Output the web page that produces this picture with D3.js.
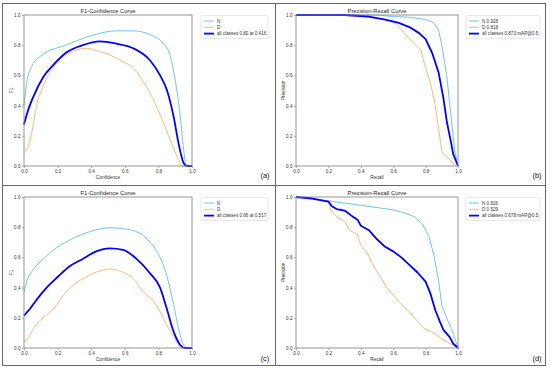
<!DOCTYPE html>
<html>
<head>
<meta charset="utf-8">
<script src="https://cdn.jsdelivr.net/npm/d3@7"></script>
<style>
  html, body { margin: 0; padding: 0; background: #fff; }
  svg { display: block; font-family: "Liberation Sans", Arial, sans-serif; }
</style>
</head>
<body>
<svg id="fig" width="550" height="370"></svg>
<script>
// ---- data ----
// (a) F1-Confidence, first model
const aN_x = [0, 0.016, 0.046, 0.115, 0.25, 0.39, 0.55, 0.65, 0.75, 0.83, 0.87, 0.9, 0.93, 0.95, 0.965, 1.0];
const aN_y = [0.40, 0.55, 0.66, 0.74, 0.80, 0.86, 0.895, 0.895, 0.87, 0.81, 0.73, 0.57, 0.33, 0.11, 0, 0];
const aD_x = [0, 0.026, 0.046, 0.075, 0.115, 0.155, 0.21, 0.27, 0.33, 0.37, 0.43, 0.51, 0.59, 0.65, 0.71, 0.77, 0.83, 0.87, 0.91, 0.94, 1.0];
const aD_y = [0.09, 0.13, 0.22, 0.40, 0.53, 0.62, 0.70, 0.75, 0.774, 0.78, 0.765, 0.736, 0.69, 0.65, 0.56, 0.44, 0.286, 0.176, 0.066, 0, 0];
const aAll_x = [0, 0.016, 0.056, 0.115, 0.175, 0.25, 0.35, 0.45, 0.55, 0.65, 0.75, 0.81, 0.85, 0.89, 0.92, 0.95, 0.97, 1.0];
const aAll_y = [0.275, 0.34, 0.46, 0.59, 0.67, 0.75, 0.80, 0.825, 0.81, 0.78, 0.70, 0.60, 0.505, 0.33, 0.15, 0.02, 0, 0];

// (b) Precision-Recall, first model
const bN_x = [0, 0.5, 0.6, 0.7, 0.8, 0.85, 0.88, 0.9, 0.93, 0.95, 0.97, 0.98, 1.0];
const bN_y = [1, 1, 0.99, 0.985, 0.97, 0.95, 0.9, 0.8, 0.6, 0.4, 0.2, 0.1, 0];
const bD_x = [0, 0.25, 0.4, 0.55, 0.62, 0.67, 0.72, 0.77, 0.8, 0.83, 0.86, 0.88, 0.9, 0.92, 0.95, 0.99];
const bD_y = [1, 1, 0.99, 0.97, 0.94, 0.88, 0.82, 0.77, 0.65, 0.55, 0.4, 0.25, 0.1, 0.07, 0.04, 0];
const bAll_x = [0, 0.3, 0.45, 0.55, 0.63, 0.7, 0.76, 0.8, 0.84, 0.88, 0.91, 0.93, 0.96, 0.97, 1.0];
const bAll_y = [1, 1, 0.99, 0.97, 0.95, 0.92, 0.88, 0.84, 0.75, 0.62, 0.45, 0.3, 0.14, 0.08, 0];

// (c) F1-Confidence, second model
const cN_x = [0, 0.016, 0.056, 0.115, 0.19, 0.29, 0.39, 0.51, 0.59, 0.69, 0.75, 0.81, 0.85, 0.89, 0.92, 0.95, 0.965, 1];
const cN_y = [0.37, 0.44, 0.52, 0.59, 0.66, 0.725, 0.77, 0.796, 0.79, 0.76, 0.70, 0.60, 0.48, 0.29, 0.13, 0.02, 0, 0];
const cD_x = [0, 0.026, 0.056, 0.115, 0.175, 0.25, 0.31, 0.37, 0.45, 0.51, 0.57, 0.65, 0.71, 0.77, 0.81, 0.85, 0.89, 0.92, 0.94, 1];
const cD_y = [0.044, 0.066, 0.13, 0.20, 0.26, 0.37, 0.43, 0.47, 0.51, 0.523, 0.51, 0.46, 0.37, 0.31, 0.24, 0.15, 0.077, 0.02, 0, 0];
const cAll_x = [0, 0.036, 0.075, 0.135, 0.20, 0.27, 0.35, 0.43, 0.51, 0.59, 0.67, 0.75, 0.81, 0.85, 0.89, 0.93, 0.96, 1];
const cAll_y = [0.215, 0.26, 0.32, 0.40, 0.47, 0.54, 0.59, 0.64, 0.66, 0.65, 0.59, 0.495, 0.40, 0.26, 0.11, 0.02, 0, 0];

// (d) Precision-Recall, second model
const dN_x = [0, 0.1, 0.2, 0.3, 0.4, 0.5, 0.6, 0.67, 0.73, 0.78, 0.82, 0.85, 0.88, 0.9, 0.93, 0.97, 1.0];
const dN_y = [1, 0.99, 0.975, 0.96, 0.945, 0.93, 0.915, 0.895, 0.87, 0.82, 0.74, 0.62, 0.45, 0.28, 0.2, 0.1, 0];
const dD_x = [0, 0.1, 0.2, 0.22, 0.26, 0.3, 0.33, 0.38, 0.4, 0.44, 0.47, 0.52, 0.56, 0.6, 0.65, 0.7, 0.74, 0.79, 0.85, 0.9, 0.95, 0.99, 1.0];
const dD_y = [1, 0.99, 0.97, 0.9, 0.86, 0.84, 0.78, 0.75, 0.68, 0.63, 0.56, 0.47, 0.40, 0.35, 0.29, 0.24, 0.19, 0.13, 0.10, 0.06, 0.03, 0.01, 0];
const dAll_x = [0, 0.1, 0.2, 0.22, 0.25, 0.3, 0.35, 0.38, 0.4, 0.45, 0.5, 0.55, 0.6, 0.65, 0.7, 0.75, 0.8, 0.83, 0.86, 0.89, 0.91, 0.95, 0.97, 1.0];
const dAll_y = [1, 0.99, 0.97, 0.94, 0.92, 0.91, 0.87, 0.85, 0.81, 0.78, 0.72, 0.67, 0.64, 0.60, 0.55, 0.50, 0.44, 0.36, 0.25, 0.17, 0.12, 0.07, 0.03, 0];

const tickValues = [0, 0.2, 0.4, 0.6, 0.8, 1.0];
const legendA = ["N", "D", "all classes 0.82 at 0.416"];
const legendB = ["N 0.928", "D 0.818", "all classes 0.873 mAP@0.5"];
const legendC = ["N", "D", "all classes 0.66 at 0.517"];
const legendD = ["N 0.826", "D 0.529", "all classes 0.678 mAP@0.5"];

const COLORS = ["#72c4e8", "#ffb873", "#0000ff"];
const WIDTHS = [1, 1, 1.8];

const svg = d3.select("#fig");

// figure frame and dividers
const frame = svg.append("g").attr("stroke", "#666").attr("stroke-width", 1).attr("fill", "none");
frame.append("rect").attr("x", 2.5).attr("y", 3.5).attr("width", 543).attr("height", 362);
frame.append("line").attr("x1", 275.5).attr("x2", 275.5).attr("y1", 3.5).attr("y2", 365.5);
frame.append("line").attr("x1", 2.5).attr("x2", 545.5).attr("y1", 185.5).attr("y2", 185.5);

function zip(xs, ys) { return xs.map((x, i) => [x, ys[i]]); }

function drawPanel(opts) {
  const { left, top, w, h, title, xLabel, yLabel, series, labels, curve, legend, tag } = opts;
  const g = svg.append("g").attr("transform", `translate(${left},${top})`);
  const x = d3.scaleLinear().domain([0, 1]).range([0, w]);
  const y = d3.scaleLinear().domain([0, 1]).range([h, 0]);

  const line = d3.line().x(d => x(d[0])).y(d => y(d[1])).curve(curve);

  // curves, all-classes on top
  series.forEach((s, i) => {
    g.append("path")
      .datum(zip(s[0], s[1]))
      .attr("fill", "none")
      .attr("stroke", COLORS[i])
      .attr("stroke-width", WIDTHS[i])
      .attr("stroke-linejoin", "round")
      .attr("d", line);
  });

  // axes
  const xAxis = g.append("g").attr("transform", `translate(0,${h})`)
    .call(d3.axisBottom(x).tickValues(tickValues).tickFormat(d3.format(".1f")).tickSize(2).tickPadding(1.5));
  const yAxis = g.append("g")
    .call(d3.axisLeft(y).tickValues(tickValues).tickFormat(d3.format(".1f")).tickSize(2).tickPadding(1.5));
  [xAxis, yAxis].forEach(a => {
    a.select(".domain").remove();
    a.selectAll("line").attr("stroke", "#777").attr("stroke-width", 0.6);
    a.selectAll("text").attr("font-size", 4.6).attr("fill", "#333").attr("font-family", "Liberation Sans, Arial, sans-serif");
  });

  g.append("rect").attr("width", w).attr("height", h)
    .attr("fill", "none").attr("stroke", "#8a8a8a").attr("stroke-width", 0.9);

  g.append("text").attr("x", w / 2).attr("y", -2.5).attr("text-anchor", "middle")
    .attr("font-size", 5.8).attr("fill", "#222").text(title);
  g.append("text").attr("x", w / 2).attr("y", h + 12.5).attr("text-anchor", "middle")
    .attr("font-size", 4.8).attr("fill", "#333").text(xLabel);
  g.append("text").attr("transform", `translate(${-11},${h / 2}) rotate(-90)`).attr("text-anchor", "middle")
    .attr("font-size", 4.8).attr("fill", "#333").text(yLabel);

  // legend
  const lg = svg.append("g").attr("transform", `translate(${legend.x},${legend.y})`);
  lg.append("rect").attr("width", legend.w).attr("height", 23).attr("rx", 1.5)
    .attr("fill", "#fff").attr("stroke", "#d8d8d8").attr("stroke-width", 0.6);
  labels.forEach((t, i) => {
    const yy = 5.5 + i * 6.3;
    lg.append("line").attr("x1", 3).attr("x2", 13).attr("y1", yy).attr("y2", yy)
      .attr("stroke", COLORS[i]).attr("stroke-width", WIDTHS[i]);
    lg.append("text").attr("x", 16).attr("y", yy + 1.6).attr("font-size", 4.6).attr("fill", "#333").text(t);
  });

  svg.append("text").attr("x", tag.x).attr("y", tag.y).attr("text-anchor", "middle")
    .attr("font-size", 7.5).attr("fill", "#111").text(tag.t);
}

drawPanel({
  left: 24, top: 15, w: 168, h: 151,
  title: "F1-Confidence Curve", xLabel: "Confidence", yLabel: "F1",
  series: [[aN_x, aN_y], [aD_x, aD_y], [aAll_x, aAll_y]], labels: legendA,
  curve: d3.curveMonotoneX, legend: { x: 201, y: 15.5, w: 67 }, tag: { x: 265, y: 178, t: "(a)" }
});
drawPanel({
  left: 296, top: 15, w: 162, h: 151,
  title: "Precision-Recall Curve", xLabel: "Recall", yLabel: "Precision",
  series: [[bN_x, bN_y], [bD_x, bD_y], [bAll_x, bAll_y]], labels: legendB,
  curve: d3.curveLinear, legend: { x: 466, y: 15.5, w: 74 }, tag: { x: 537, y: 178, t: "(b)" }
});
drawPanel({
  left: 24, top: 197, w: 168, h: 151,
  title: "F1-Confidence Curve", xLabel: "Confidence", yLabel: "F1",
  series: [[cN_x, cN_y], [cD_x, cD_y], [cAll_x, cAll_y]], labels: legendC,
  curve: d3.curveMonotoneX, legend: { x: 201, y: 197.5, w: 67 }, tag: { x: 265, y: 361, t: "(c)" }
});
drawPanel({
  left: 296, top: 197, w: 162, h: 151,
  title: "Precision-Recall Curve", xLabel: "Recall", yLabel: "Precision",
  series: [[dN_x, dN_y], [dD_x, dD_y], [dAll_x, dAll_y]], labels: legendD,
  curve: d3.curveLinear, legend: { x: 466, y: 197.5, w: 74 }, tag: { x: 537, y: 361, t: "(d)" }
});
</script>
</body>
</html>
